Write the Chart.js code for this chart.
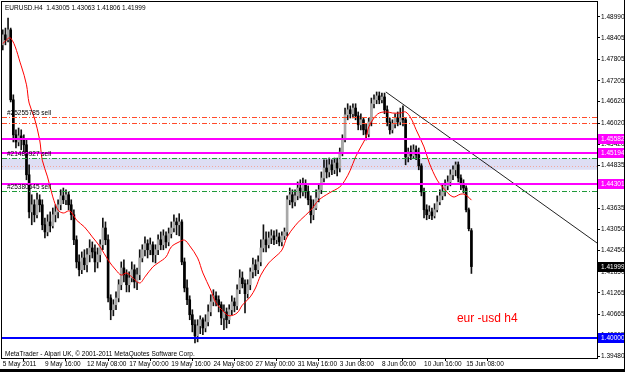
<!DOCTYPE html>
<html>
<head>
<meta charset="utf-8">
<script src="https://cdn.jsdelivr.net/npm/chart.js@4.4.1/dist/chart.umd.min.js"></script>
<style>
  html, body { margin: 0; padding: 0; background: #000; }
  #wrap { width: 624px; height: 369px; background: #fff; }
  canvas { display: block; }
</style>
</head>
<body>
<div id="wrap"><canvas id="chart" width="624" height="369"></canvas></div>
<script>
// EURUSD H4, one entry per bar, starting 5 May 2011 00:00
const opens = [
  1.4821, 1.4849, 1.4835, 1.4863, 1.4667, 1.4569, 1.4549, 1.4566, 1.4555, 1.4541,
  1.4457, 1.4353, 1.4373, 1.4345, 1.4387, 1.4373, 1.4317, 1.4297, 1.4325, 1.4314,
  1.4345, 1.4353, 1.4373, 1.4398, 1.4387, 1.4401, 1.4373, 1.4345, 1.4275, 1.4213,
  1.4191, 1.4224, 1.4205, 1.4233, 1.4252, 1.4241, 1.4213, 1.4233, 1.4261, 1.4308,
  1.4275, 1.4112, 1.4079, 1.4093, 1.4112, 1.4149, 1.4196, 1.4177, 1.4149, 1.4168,
  1.4191, 1.4157, 1.4177, 1.4224, 1.4247, 1.4264, 1.4247, 1.4261, 1.4233, 1.4247,
  1.4275, 1.4261, 1.4286, 1.4269, 1.4292, 1.4308, 1.4325, 1.4317, 1.4325, 1.4213,
  1.4140, 1.4107, 1.4065, 1.4037, 1.4006, 1.4034, 1.4051, 1.4028, 1.4045, 1.4073,
  1.4101, 1.4118, 1.4107, 1.4093, 1.4056, 1.4073, 1.4051, 1.4079, 1.4101, 1.4090,
  1.4135, 1.4168, 1.4152, 1.4124, 1.4149, 1.4185, 1.4205, 1.4191, 1.4213, 1.4252,
  1.4275, 1.4261, 1.4280, 1.4286, 1.4275, 1.4283, 1.4269, 1.4286, 1.4297, 1.4387,
  1.4401, 1.4381, 1.4398, 1.4420, 1.4409, 1.4429, 1.4409, 1.4387, 1.4345, 1.4364,
  1.4392, 1.4415, 1.4448, 1.4476, 1.4465, 1.4485, 1.4471, 1.4490, 1.4476, 1.4521,
  1.4555, 1.4625, 1.4639, 1.4628, 1.4644, 1.4622, 1.4597, 1.4611, 1.4583, 1.4571,
  1.4605, 1.4656, 1.4667, 1.4678, 1.4667, 1.4675, 1.4639, 1.4605, 1.4583, 1.4599,
  1.4616, 1.4605, 1.4616, 1.4611, 1.4507, 1.4521, 1.4510, 1.4527, 1.4513, 1.4482,
  1.4409, 1.4359, 1.4345, 1.4353, 1.4342, 1.4359, 1.4381, 1.4398, 1.4409, 1.4426,
  1.4437, 1.4457, 1.4471, 1.4485, 1.4448, 1.4432, 1.4420, 1.4359, 1.43005
];
const highs = [
  1.4863, 1.4868, 1.4896, 1.4868, 1.4681, 1.4583, 1.4588, 1.4583, 1.4569, 1.4555,
  1.4485, 1.4401, 1.4387, 1.4406, 1.4401, 1.4387, 1.4336, 1.4345, 1.4353, 1.4364,
  1.4373, 1.4387, 1.4415, 1.4420, 1.4415, 1.4409, 1.4387, 1.4359, 1.4286, 1.4233,
  1.4241, 1.4247, 1.4250, 1.4275, 1.4269, 1.4261, 1.4252, 1.4275, 1.4336, 1.4325,
  1.4289, 1.4121, 1.4107, 1.4129, 1.4163, 1.4213, 1.4219, 1.4191, 1.4185, 1.4213,
  1.4205, 1.4196, 1.4247, 1.4261, 1.4283, 1.4275, 1.4280, 1.4269, 1.4261, 1.4289,
  1.4297, 1.4303, 1.4297, 1.4308, 1.4325, 1.4345, 1.4336, 1.4348, 1.4331, 1.4224,
  1.4163, 1.4118, 1.4079, 1.4051, 1.4051, 1.4062, 1.4056, 1.4065, 1.4093, 1.4121,
  1.4135, 1.4129, 1.4118, 1.4101, 1.4093, 1.4084, 1.4093, 1.4118, 1.4112, 1.4149,
  1.4191, 1.4185, 1.4163, 1.4163, 1.4196, 1.4224, 1.4219, 1.4230, 1.4275, 1.4317,
  1.4297, 1.4297, 1.4303, 1.4300, 1.4303, 1.4294, 1.4297, 1.4308, 1.4398, 1.4420,
  1.4415, 1.4415, 1.4437, 1.4443, 1.4448, 1.4443, 1.4426, 1.4398, 1.4387, 1.4415,
  1.4429, 1.4465, 1.4499, 1.4499, 1.4504, 1.4499, 1.4504, 1.4504, 1.4532, 1.4569,
  1.4644, 1.4656, 1.4650, 1.4656, 1.4656, 1.4633, 1.4628, 1.4616, 1.4599, 1.4616,
  1.4672, 1.4681, 1.4689, 1.4689, 1.4686, 1.4686, 1.4650, 1.4616, 1.4611, 1.4628,
  1.4633, 1.4644, 1.4650, 1.4616, 1.4532, 1.4538, 1.4541, 1.4538, 1.4532, 1.4488,
  1.4420, 1.4373, 1.4370, 1.4364, 1.4376, 1.4398, 1.4415, 1.4429, 1.4443, 1.4454,
  1.4471, 1.4482, 1.4493, 1.4493, 1.4457, 1.4443, 1.4426, 1.4364, 1.43063
];
const lows = [
  1.4807, 1.4821, 1.4829, 1.4661, 1.4549, 1.4532, 1.4538, 1.4527, 1.4521, 1.4443,
  1.4336, 1.4317, 1.4325, 1.4336, 1.4353, 1.4303, 1.4280, 1.4286, 1.4297, 1.4308,
  1.4325, 1.4336, 1.4359, 1.4376, 1.4373, 1.4359, 1.4331, 1.4261, 1.4196, 1.4174,
  1.4180, 1.4191, 1.4185, 1.4213, 1.4224, 1.4185, 1.4196, 1.4213, 1.4247, 1.4261,
  1.4101, 1.4051, 1.4062, 1.4079, 1.4101, 1.4135, 1.4157, 1.4129, 1.4129, 1.4157,
  1.4140, 1.4135, 1.4163, 1.4213, 1.4230, 1.4224, 1.4233, 1.4213, 1.4210, 1.4233,
  1.4247, 1.4247, 1.4252, 1.4258, 1.4280, 1.4297, 1.4289, 1.4286, 1.4205, 1.4129,
  1.4093, 1.4051, 1.4017, 1.3986, 1.3989, 1.4012, 1.4009, 1.4017, 1.4034, 1.4062,
  1.4090, 1.4090, 1.4073, 1.4037, 1.4023, 1.4028, 1.4040, 1.4065, 1.4073, 1.4079,
  1.4124, 1.4140, 1.4070, 1.4112, 1.4135, 1.4168, 1.4174, 1.4180, 1.4202, 1.4241,
  1.4241, 1.4252, 1.4264, 1.4261, 1.4264, 1.4258, 1.4258, 1.4275, 1.4286, 1.4373,
  1.4364, 1.4370, 1.4387, 1.4392, 1.4398, 1.4392, 1.4373, 1.4322, 1.4331, 1.4359,
  1.4381, 1.4404, 1.4437, 1.4448, 1.4451, 1.4457, 1.4460, 1.4454, 1.4465, 1.4510,
  1.4549, 1.4611, 1.4616, 1.4616, 1.4611, 1.4583, 1.4583, 1.4569, 1.4555, 1.4563,
  1.4594, 1.4644, 1.4656, 1.4656, 1.4658, 1.4628, 1.4594, 1.4571, 1.4574, 1.4588,
  1.4594, 1.4597, 1.4594, 1.4485, 1.4493, 1.4499, 1.4504, 1.4499, 1.4471, 1.4398,
  1.4336, 1.4331, 1.4334, 1.4331, 1.4336, 1.4353, 1.4373, 1.4387, 1.4398, 1.4415,
  1.4426, 1.4443, 1.4454, 1.4437, 1.4415, 1.4406, 1.4353, 1.4300, 1.41806
];
const closes = [
  1.4849, 1.4835, 1.4863, 1.4667, 1.4569, 1.4549, 1.4566, 1.4555, 1.4541, 1.4457,
  1.4353, 1.4373, 1.4345, 1.4387, 1.4373, 1.4317, 1.4297, 1.4325, 1.4314, 1.4345,
  1.4353, 1.4373, 1.4398, 1.4387, 1.4401, 1.4373, 1.4345, 1.4275, 1.4213, 1.4191,
  1.4224, 1.4205, 1.4233, 1.4252, 1.4241, 1.4213, 1.4233, 1.4261, 1.4308, 1.4275,
  1.4112, 1.4079, 1.4093, 1.4112, 1.4149, 1.4196, 1.4177, 1.4149, 1.4168, 1.4191,
  1.4157, 1.4177, 1.4224, 1.4247, 1.4264, 1.4247, 1.4261, 1.4233, 1.4247, 1.4275,
  1.4261, 1.4286, 1.4269, 1.4292, 1.4308, 1.4325, 1.4317, 1.4325, 1.4213, 1.4140,
  1.4107, 1.4065, 1.4037, 1.4006, 1.4034, 1.4051, 1.4028, 1.4045, 1.4073, 1.4101,
  1.4118, 1.4107, 1.4093, 1.4056, 1.4073, 1.4051, 1.4079, 1.4101, 1.4090, 1.4135,
  1.4168, 1.4152, 1.4124, 1.4149, 1.4185, 1.4205, 1.4191, 1.4213, 1.4252, 1.4275,
  1.4261, 1.4280, 1.4286, 1.4275, 1.4283, 1.4269, 1.4286, 1.4297, 1.4387, 1.4401,
  1.4381, 1.4398, 1.4420, 1.4409, 1.4429, 1.4409, 1.4387, 1.4345, 1.4364, 1.4392,
  1.4415, 1.4448, 1.4476, 1.4465, 1.4485, 1.4471, 1.4490, 1.4476, 1.4521, 1.4555,
  1.4625, 1.4639, 1.4628, 1.4644, 1.4622, 1.4597, 1.4611, 1.4583, 1.4571, 1.4605,
  1.4656, 1.4667, 1.4678, 1.4667, 1.4675, 1.4639, 1.4605, 1.4583, 1.4599, 1.4616,
  1.4605, 1.4616, 1.4611, 1.4507, 1.4521, 1.4510, 1.4527, 1.4513, 1.4482, 1.4409,
  1.4359, 1.4345, 1.4353, 1.4342, 1.4359, 1.4381, 1.4398, 1.4409, 1.4426, 1.4437,
  1.4457, 1.4471, 1.4485, 1.4448, 1.4432, 1.4420, 1.4359, 1.4306, 1.41999
];

// red moving average at these bars
const maBars = [0, 3, 7, 9, 10, 12, 14, 15, 17, 19, 21, 23, 25, 26, 28, 31, 34, 37, 40, 43,
  45, 47, 49, 52, 54, 57, 59, 62, 64, 67, 69, 71, 74, 76, 79, 81, 84, 86, 89, 91,
  94, 96, 98, 101, 103, 106, 108, 111, 113, 117, 120, 124, 128, 130, 132, 134, 136, 138, 139, 141,
  143, 146, 148, 151, 153, 155, 157, 160, 162, 165, 167, 171, 174, 176, 178];
const maValues = [1.4825, 1.4840, 1.4762, 1.4709, 1.4658, 1.4616, 1.4555, 1.4498, 1.4451, 1.4395,
  1.4358, 1.4350, 1.4356, 1.4353, 1.4330, 1.4311, 1.4283, 1.4255, 1.4218, 1.4190,
  1.4176, 1.4182, 1.4171, 1.4154, 1.4171, 1.4199, 1.4210, 1.4227, 1.4255, 1.4269,
  1.4274, 1.4258, 1.4224, 1.4182, 1.4134, 1.4098, 1.4073, 1.4062, 1.4070, 1.4092,
  1.4115, 1.4140, 1.4176, 1.4210, 1.4224, 1.4246, 1.4283, 1.4314, 1.4330, 1.4358,
  1.4386, 1.4406, 1.4423, 1.4442, 1.4470, 1.4507, 1.4535, 1.4563, 1.4591, 1.4616,
  1.4630, 1.4633, 1.4630, 1.4630, 1.4633, 1.4616, 1.4583, 1.4535, 1.4490, 1.4442,
  1.4423, 1.4395, 1.4403, 1.4400, 1.4386];

// trend line (bar, price) from the 8 Jun top to the right edge
const trendBars = [145.5, 225.7];
const trendPrices = [1.4689, 1.4266];

const timeLabels = ['5 May 2011', '9 May 16:00', '12 May 08:00', '17 May 00:00', '19 May 16:00',
  '24 May 08:00', '27 May 00:00', '31 May 16:00', '3 Jun 08:00', '8 Jun 00:00', '10 Jun 16:00', '15 Jun 08:00'];
const labelBars = [0, 16, 32, 48, 64, 80, 96, 112, 128, 144, 160, 176];
const priceTicks = [1.48990, 1.48405, 1.47805, 1.47205, 1.46620, 1.46020, 1.45420, 1.44835, 1.44235,
  1.43635, 1.43050, 1.42450, 1.41850, 1.41265, 1.40665, 1.40065, 1.39480];

const magentaLevels = [1.45582, 1.45194, 1.44301];
const supportLevel = 1.40000;
const bidPrice = 1.41999;
const stopLevels = [1.4618, 1.4602];
const orderLevels = [1.4503, 1.4412];
const orderNames = ['#25255785 sell', '#21488927 sell', '#25380645 sell'];
const orderNameLevels = [1.4618, 1.4503, 1.4412];
const bandRange = [1.4471, 1.4504];
const dottedLevel = 1.4482;
const noteText = 'eur -usd h4';
const noteBar = 172.5;
const notePrice = 1.4045;

const FONT = "'Liberation Sans', Arial, sans-serif";
const SMALL = 6.5;

function hline(ctx, a, yPix, color, width, dash) {
  const yy = Math.round(yPix) + (width % 2 ? 0.5 : 0);
  ctx.beginPath();
  ctx.setLineDash(dash || []);
  ctx.strokeStyle = color;
  ctx.lineWidth = width;
  ctx.moveTo(a.left, yy);
  ctx.lineTo(a.right, yy);
  ctx.stroke();
  ctx.setLineDash([]);
}

function priceBox(ctx, a, yPix, bg, text) {
  const yy = Math.round(yPix);
  ctx.fillStyle = bg;
  ctx.fillRect(a.right + 1, yy - 5, 26, 10);
  ctx.fillStyle = '#fff';
  ctx.font = SMALL + 'px ' + FONT;
  ctx.textAlign = 'left';
  ctx.textBaseline = 'middle';
  ctx.fillText(text, a.right + 4, yy + 0.5);
}

const overlay = {
  id: 'overlay',
  beforeDatasetsDraw(chart) {
    const { ctx, chartArea: a, scales: { y } } = chart;
    ctx.save();
    const t = y.getPixelForValue(bandRange[1]);
    const b = y.getPixelForValue(bandRange[0]);
    ctx.fillStyle = '#dedef4';
    ctx.fillRect(a.left, t, a.right - a.left, b - t);
    hline(ctx, a, y.getPixelForValue(dottedLevel), '#f2a89c', 1, [1, 2]);
    ctx.restore();
  },
  afterDatasetsDraw(chart) {
    const { ctx, chartArea: a, scales: { x, y } } = chart;
    ctx.save();
    stopLevels.forEach(v => hline(ctx, a, y.getPixelForValue(v), '#ff4a2a', 1, [5, 2, 1, 2]));
    orderLevels.forEach(v => hline(ctx, a, y.getPixelForValue(v), '#1f9a3a', 1, [5, 2, 1, 2]));
    magentaLevels.forEach(v => hline(ctx, a, y.getPixelForValue(v), '#ff00ff', 2));
    hline(ctx, a, y.getPixelForValue(supportLevel), '#0000ff', 2);

    ctx.font = SMALL + 'px ' + FONT;
    ctx.textAlign = 'left';
    ctx.textBaseline = 'bottom';
    ctx.fillStyle = '#000';
    orderNames.forEach((s, k) => ctx.fillText(s, a.left + 5, y.getPixelForValue(orderNameLevels[k]) - 0.5));

    ctx.textBaseline = 'top';
    ctx.fillText('EURUSD.H4  1.43005 1.43063 1.41806 1.41999', a.left + 3, a.top + 3);
    ctx.textBaseline = 'bottom';
    ctx.fillText('MetaTrader - Alpari UK, \u00a9 2001-2011 MetaQuotes Software Corp.', a.left + 3, a.bottom - 1);

    ctx.fillStyle = '#ff0000';
    ctx.font = '12px ' + FONT;
    ctx.textBaseline = 'alphabetic';
    ctx.fillText(noteText, x.getPixelForValue(noteBar), y.getPixelForValue(notePrice));

    ctx.strokeStyle = '#000';
    ctx.lineWidth = 1;
    ctx.strokeRect(a.left - 0.5, a.top - 0.5, a.right - a.left + 1, a.bottom - a.top + 1);

    magentaLevels.forEach(v => priceBox(ctx, a, y.getPixelForValue(v), '#ff00ff', v.toFixed(5)));
    priceBox(ctx, a, y.getPixelForValue(bidPrice), '#000', bidPrice.toFixed(5));
    priceBox(ctx, a, y.getPixelForValue(supportLevel), '#0000ff', supportLevel.toFixed(5));
    ctx.restore();
  }
};

const bars = closes.map((c, i) => i);
const wickData = bars.map(i => ({ x: i, y: [lows[i], highs[i]] }));
const bodyData = bars.map(i => ({ x: i, y: [opens[i], closes[i]] }));
const bodyColors = bars.map(i => closes[i] >= opens[i] ? '#a8a8a8' : '#000');

new Chart(document.getElementById('chart'), {
  type: 'bar',
  data: {
    datasets: [
      {
        type: 'line', data: maBars.map((b, k) => ({ x: b, y: maValues[k] })),
        borderColor: '#ff0000', borderWidth: 1, pointRadius: 0, tension: 0.35, order: 0
      },
      {
        type: 'line', data: trendBars.map((b, k) => ({ x: b, y: trendPrices[k] })),
        borderColor: '#222', borderWidth: 1, pointRadius: 0, order: 1
      },
      {
        data: bodyData, backgroundColor: bodyColors, borderWidth: 0,
        barThickness: 2, minBarLength: 1, grouped: false, order: 2
      },
      {
        data: wickData, backgroundColor: '#111', borderWidth: 0,
        barThickness: 1, grouped: false, order: 3
      }
    ]
  },
  options: {
    responsive: false,
    animation: false,
    layout: { padding: { left: 2, top: 2, right: 0, bottom: 0 } },
    plugins: { legend: { display: false }, tooltip: { enabled: false } },
    scales: {
      x: {
        type: 'linear', min: -0.3, max: 225.7, offset: false,
        grid: { drawOnChartArea: false, drawTicks: true, tickLength: 3, color: '#000' },
        border: { display: false },
        afterBuildTicks: s => { s.ticks = labelBars.map(v => ({ value: v })); },
        afterFit: s => { s.height = 11; s.paddingLeft = 0; s.paddingRight = 0; },
        ticks: {
          autoSkip: false, maxRotation: 0, align: 'start', padding: 0, color: '#000',
          font: { family: FONT, size: SMALL, lineHeight: 1 },
          callback: v => timeLabels[labelBars.indexOf(v)]
        }
      },
      y: {
        type: 'linear', position: 'right', min: 1.39438, max: 1.4941,
        grid: { drawOnChartArea: false, drawTicks: true, tickLength: 3, color: '#000' },
        border: { display: false },
        afterBuildTicks: s => { s.ticks = priceTicks.map(v => ({ value: v })); },
        afterFit: s => { s.width = 27; s.paddingTop = 0; s.paddingBottom = 0; },
        ticks: {
          autoSkip: false, padding: 1, color: '#000',
          font: { family: FONT, size: SMALL, lineHeight: 1 },
          callback: v => v.toFixed(5)
        }
      }
    }
  },
  plugins: [overlay]
});
</script>
</body>
</html>
